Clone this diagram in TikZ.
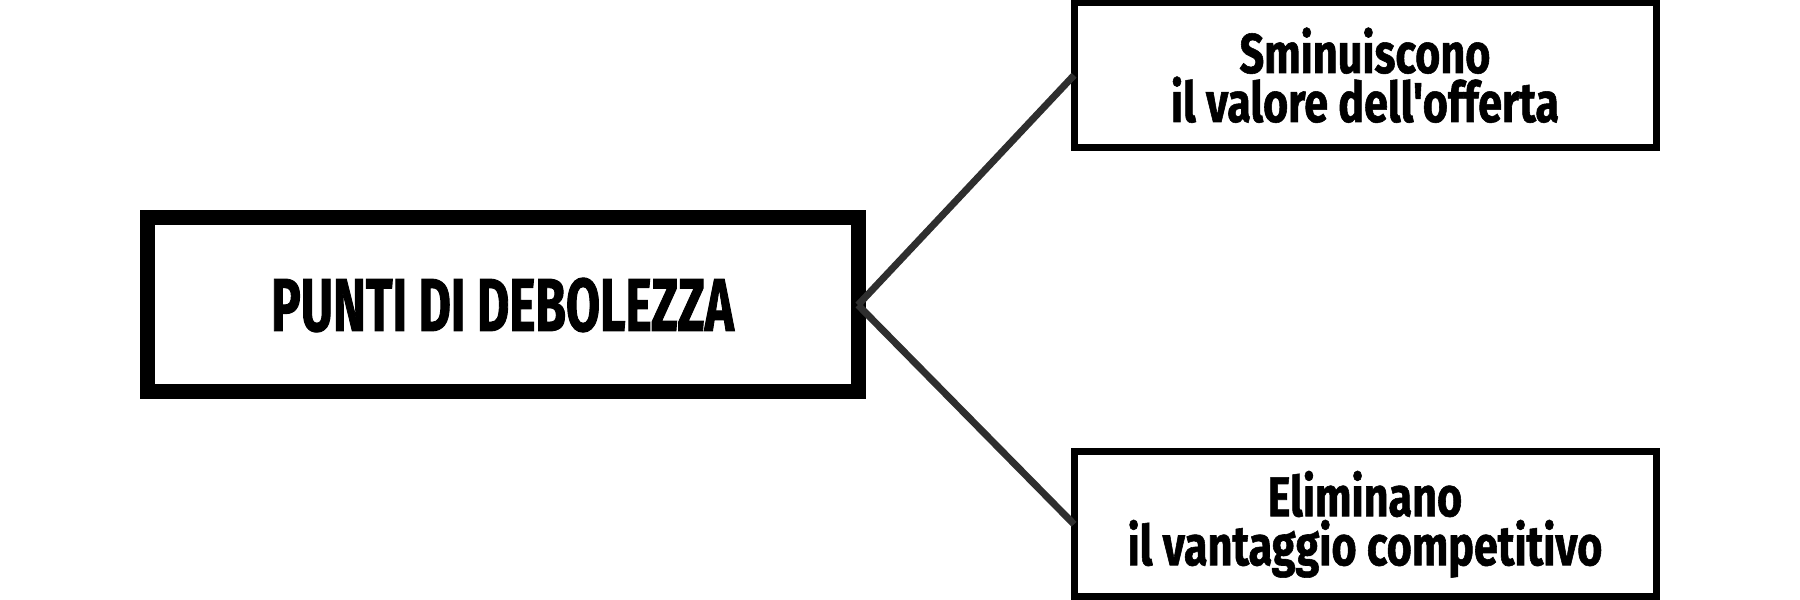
\documentclass[tikz,border=0pt]{standalone}
\usepackage{fontspec}
\usepackage{tikz}
\usetikzlibrary{positioning}
\newfontfamily\rootfont[FakeStretch=0.66,FakeBold=1.2]{Fira Sans}
\newfontfamily\leaffont[FakeStretch=0.77,FakeBold=1]{Fira Sans}
\definecolor{linkgray}{HTML}{2E2E2E}
\tikzset{
rootnode/.style = {rectangle, draw, line width=7.5pt, minimum width=355.5pt, minimum height=87pt, inner sep=0pt, outer sep=0pt,
  font=\rootfont\bfseries\fontsize{37.5}{40}\selectfont},
%rootnode/.style = {}
}
\tikzset{
leafnode/.style = {rectangle, draw, line width=3.5pt, minimum width=291pt, minimum height=72.25pt, inner sep=0pt, outer sep=0pt,
  align=center, font=\leaffont\bfseries\fontsize{28}{24.5}\selectfont},
}
\tikzset{link/.style={draw=linkgray, line width=3.5pt}}

\begin{document}
\begin{tikzpicture}[x=0.5pt,y=0.5pt]
    \useasboundingbox (0,0) rectangle (1800,600);
    \node [rootnode] (weak) at (502.5,295) {PUNTI DI DEBOLEZZA};
    \node [leafnode] (value) at (1365,524.75) {Sminuiscono\\il valore dell'offerta};
    \node [leafnode] (edge) at (1365,75.75) {Eliminano\\il vantaggio competitivo};
    \draw [link] (weak.east) -- (value.west);
    \draw [link] (weak.east) -- (edge.west);
\end{tikzpicture}
\end{document}
